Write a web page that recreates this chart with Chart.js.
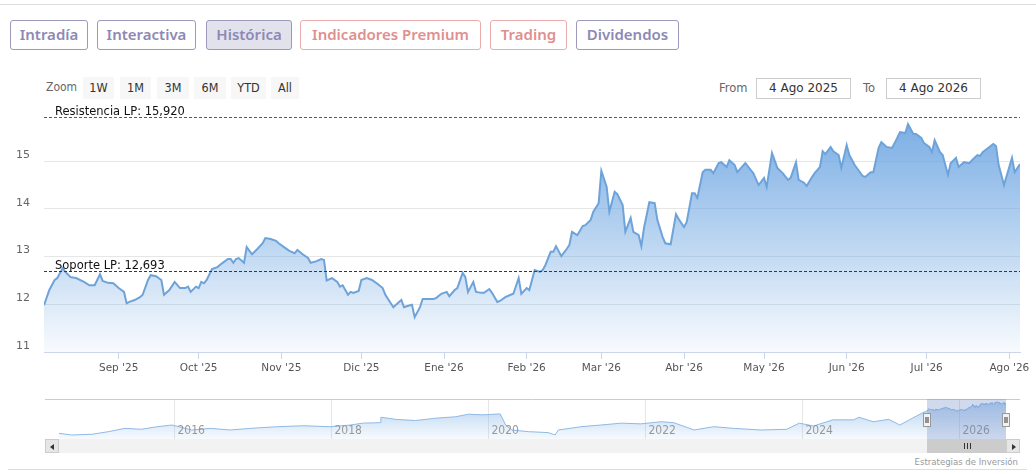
<!DOCTYPE html>
<html lang="es">
<head>
    <meta charset="UTF-8">
    <title>Histórica</title>
    <script src="https://cdn.jsdelivr.net/npm/chart.js"></script>
    <style>
        html, body { margin: 0; padding: 0; background: #fff; }
        .page { position: relative; width: 1036px; height: 474px; overflow: hidden; font-family: "DejaVu Sans", sans-serif; }
        .rule { position: absolute; height: 1px; background: #dedede; }
        .tab { position: absolute; top: 20px; height: 30px; box-sizing: border-box; border: 1px solid #9c99bb; border-radius: 3px;
               font-family: "Noto Sans", sans-serif; font-weight: 600; font-size: 15px; line-height: 27px; text-align: center; color: #8d89b4; }
        .tab.on { background: #e2e2ec; }
        .tab.red { color: #df8f8e; border-color: #e8adac; }
        .zoom-lbl { position: absolute; left: 46px; top: 80px; font-size: 12px; color: #666;
                    font-family: "Liberation Sans Narrow", "DejaVu Sans Condensed", "Liberation Sans", sans-serif; }
        .rbtn { position: absolute; top: 77px; height: 22px; background: #f7f7f7; font-size: 12.5px; line-height: 22px; text-align: center; color: #333;
                font-family: "Liberation Sans Narrow", "DejaVu Sans Condensed", "Liberation Sans", sans-serif; }
        .dlbl { position: absolute; top: 81px; font-size: 11.5px; color: #666; }
        .dbox { position: absolute; top: 78px; width: 95px; height: 21px; box-sizing: border-box; border: 1px solid #cccccc;
                font-size: 12px; line-height: 19px; text-align: center; color: #333; }
        #priceChart { position: absolute; left: 0; top: 95px; }
        #navChart { position: absolute; left: 0; top: 399px; }
        .sb-track { position: absolute; left: 45px; top: 439px; width: 975px; height: 14px; background: #f2f2f2; }
        .sb-btn { position: absolute; top: 439px; width: 14px; height: 14px; box-sizing: border-box; background: #e6e6e6; border: 1px solid #cccccc; }
        .sb-btn i { position: absolute; top: 4px; width: 0; height: 0; border-top: 3px solid transparent; border-bottom: 3px solid transparent; }
        .sb-left i { left: 4px; border-right: 4px solid #333; }
        .sb-right i { left: 5px; border-left: 4px solid #333; }
        .sb-thumb { position: absolute; top: 439px; height: 14px; background: #cccccc; }
        .sb-thumb b { position: absolute; top: 4px; width: 1px; height: 6px; background: #333; }
        .credits { position: absolute; right: 18px; top: 456px; font-size: 9.5px; color: #999;
                   font-family: "Liberation Sans Narrow", "DejaVu Sans Condensed", "Liberation Sans", sans-serif; }
    </style>
</head>
<body>
<div class="page">
    <div class="rule" style="left:0;top:4px;width:1036px"></div>

    <!-- Pestañas -->
    <div class="tab" style="left:10px;width:78px">Intradía</div>
    <div class="tab" style="left:97px;width:99px">Interactiva</div>
    <div class="tab on" style="left:206px;width:86px">Histórica</div>
    <div class="tab red" style="left:300px;width:181px">Indicadores Premium</div>
    <div class="tab red" style="left:490px;width:77px">Trading</div>
    <div class="tab" style="left:576px;width:103px">Dividendos</div>

    <!-- Selector de rango -->
    <div class="zoom-lbl">Zoom</div>
    <div class="rbtn" style="left:83px;width:31px">1W</div>
    <div class="rbtn" style="left:120px;width:31px">1M</div>
    <div class="rbtn" style="left:157px;width:32px">3M</div>
    <div class="rbtn" style="left:194px;width:32px">6M</div>
    <div class="rbtn" style="left:231px;width:35px">YTD</div>
    <div class="rbtn" style="left:271px;width:28px">All</div>

    <div class="dlbl" style="left:719px">From</div>
    <div class="dbox" style="left:756px" id="fromBox"></div>
    <div class="dlbl" style="left:863px">To</div>
    <div class="dbox" style="left:886px" id="toBox"></div>

    <canvas id="priceChart" width="1036" height="285"></canvas>
    <canvas id="navChart" width="1036" height="40"></canvas>

    <div class="sb-track"></div>
    <div class="sb-thumb" id="sbThumb"><b></b><b></b><b></b></div>
    <div class="sb-btn sb-left" style="left:45px"><i></i></div>
    <div class="sb-btn sb-right" style="left:1006px"><i></i></div>

    <div class="credits">Estrategias de Inversión</div>
    <div class="rule" style="left:8px;top:469px;width:1019px"></div>
</div>

<script>
    // Periodo visible
    const fromLabel = "4 Ago 2025";
    const toLabel = "4 Ago 2026";

    // Cotización diaria: días desde 4 Ago 2025
    const priceDays = [0, 2, 4, 5, 7, 8, 10, 12, 15, 17, 19, 21, 22, 24, 26, 28, 30, 31, 32, 34, 36, 37, 39, 40, 42, 44, 45, 47, 49, 51,
        53, 54, 55, 57, 58, 59, 60, 61, 63, 65, 67, 69, 70, 71, 72, 73, 75, 76, 78, 80, 82, 83, 85, 87, 88, 90, 92, 94, 95, 97,
        99, 100, 102, 104, 105, 106, 108, 110, 111, 112, 114, 115, 116, 118, 119, 121, 123, 125, 127, 128, 131, 132, 134, 135, 136, 138, 139, 141, 142, 144,
        146, 147, 149, 151, 152, 154, 155, 157, 158, 159, 161, 162, 164, 165, 167, 168, 170, 171, 173, 175, 176, 178, 179, 181, 182, 184, 186, 187, 188, 190,
        191, 192, 194, 196, 197, 198, 200, 202, 203, 205, 206, 208, 209, 211, 212, 214, 215, 217, 218, 220, 221, 223, 224, 225, 227, 229, 230, 232, 233, 235,
        237, 238, 240, 241, 243, 244, 245, 247, 248, 250, 251, 253, 254, 256, 257, 259, 260, 263, 265, 266, 268, 270, 271, 273, 275, 277, 279, 280, 282, 283,
        285, 286, 288, 289, 291, 292, 293, 295, 296, 298, 299, 301, 302, 304, 307, 308, 310, 311, 313, 314, 316, 318, 319, 321, 323, 324, 326, 327, 329, 330,
        332, 333, 334, 336, 337, 339, 340, 342, 343, 345, 347, 348, 350, 351, 352, 356, 357, 358, 360, 363, 364, 366];
    const priceValues = [11.98, 12.30, 12.51, 12.55, 12.76, 12.68, 12.57, 12.55, 12.47, 12.40, 12.40, 12.63, 12.49, 12.45, 12.44, 12.34, 12.26, 12.02, 12.05, 12.09, 12.15, 12.20, 12.51, 12.61, 12.59, 12.51, 12.20, 12.30, 12.47, 12.34,
        12.34, 12.37, 12.26, 12.37, 12.34, 12.47, 12.44, 12.51, 12.74, 12.78, 12.87, 12.95, 12.95, 12.87, 12.95, 12.97, 12.87, 13.20, 13.05, 13.16, 13.28, 13.39, 13.37, 13.33, 13.28, 13.20, 13.12, 13.07, 13.14, 13.05,
        12.97, 12.87, 12.90, 12.95, 12.93, 12.50, 12.55, 12.47, 12.37, 12.40, 12.20, 12.26, 12.24, 12.28, 12.51, 12.55, 12.51, 12.43, 12.34, 12.20, 11.94, 11.99, 12.09, 11.94, 11.96, 11.99, 11.73, 11.94, 12.11, 12.11,
        12.11, 12.13, 12.22, 12.26, 12.17, 12.30, 12.34, 12.66, 12.57, 12.26, 12.47, 12.26, 12.24, 12.24, 12.32, 12.24, 12.05, 12.07, 12.15, 12.20, 12.22, 12.55, 12.22, 12.34, 12.30, 12.72, 12.68, 12.72, 12.82, 13.10,
        13.10, 13.22, 13.01, 13.16, 13.24, 13.52, 13.45, 13.64, 13.66, 13.77, 13.94, 14.12, 14.80, 14.46, 13.94, 14.36, 14.31, 14.08, 13.52, 13.81, 13.52, 13.45, 13.22, 13.60, 14.14, 14.12, 13.77, 13.41, 13.28, 13.26,
        13.89, 13.79, 13.62, 13.72, 14.33, 14.33, 14.23, 14.77, 14.82, 14.82, 14.75, 14.96, 14.98, 14.88, 15.02, 14.92, 14.77, 14.96, 14.82, 14.75, 14.50, 14.65, 14.46, 15.17, 14.86, 14.75, 14.61, 14.65, 14.98, 14.61,
        14.55, 14.48, 14.67, 14.75, 14.88, 15.21, 15.15, 15.30, 15.21, 15.13, 14.86, 15.34, 15.13, 14.92, 14.69, 14.67, 14.77, 14.77, 15.28, 15.40, 15.30, 15.28, 15.38, 15.61, 15.59, 15.78, 15.57, 15.57, 15.49, 15.38,
        15.30, 15.19, 15.44, 15.19, 15.13, 14.71, 14.96, 15.07, 14.88, 14.98, 14.96, 15.02, 15.13, 15.11, 15.19, 15.36, 15.32, 14.92, 14.50, 15.07, 14.77, 14.94];
    const periodDays = 366;

    // Eje X: inicio de cada mes
    const monthDays = [28, 58, 89, 119, 150, 181, 209, 240, 270, 301, 331, 362];
    const monthLabels = ["Sep '25", "Oct '25", "Nov '25", "Dic '25", "Ene '26", "Feb '26", "Mar '26", "Abr '26", "May '26", "Jun '26", "Jul '26", "Ago '26"];
    const yTicks = [11, 12, 13, 14, 15];

    // Niveles de soporte / resistencia
    const levelNames = ["Resistencia LP", "Soporte LP"];
    const levelValues = [15.920, 12.693];

    // Navegador: histórico anterior (año decimal) + el periodo visible
    const navHistYears = [2014.53, 2014.69, 2014.95, 2015.16, 2015.37, 2015.58, 2015.78, 2015.97, 2016.22, 2016.46, 2016.71, 2016.97, 2017.31, 2017.64, 2017.98, 2018.24, 2018.40, 2018.62,
        2018.63, 2018.82, 2019.07, 2019.33, 2019.58, 2019.75, 2019.92, 2020.15, 2020.22, 2020.30, 2020.51, 2020.76, 2020.85, 2020.89, 2021.18, 2021.43, 2021.69, 2021.94,
        2022.20, 2022.36, 2022.62, 2022.87, 2023.12, 2023.47, 2023.80, 2023.96, 2024.14, 2024.39, 2024.65, 2024.72, 2024.90, 2025.10, 2025.24, 2025.40, 2025.52];
    const navHistValues = [2.4, 1.7, 2.0, 3.1, 4.5, 4.1, 5.2, 5.9, 3.8, 4.5, 3.8, 4.5, 5.2, 5.6, 5.2, 5.9, 6.7, 6.9,
        9.2, 8.3, 7.8, 8.8, 9.4, 10.5, 10.2, 10.6, 5.9, 3.8, 3.1, 2.7, 1.7, 3.8, 5.2, 5.9, 6.7, 6.4,
        7.3, 6.9, 3.8, 5.2, 4.5, 3.8, 4.1, 6.7, 5.5, 8.1, 8.1, 9.2, 7.3, 8.3, 5.9, 8.8, 10.9];
    const navYearTicks = [2016, 2018, 2020, 2022, 2024, 2026];
    const navMinYear = 2014.53;
    const periodStartYear = 2025.59;

    document.getElementById("fromBox").innerText = fromLabel;
    document.getElementById("toBox").innerText = toLabel;

    const fmtLevel = v => v.toFixed(3).replace(".", ",");

    // 🔹 Degradado del área
    function areaFill(chart, rgb, top, bottom) {
        const area = chart.chartArea;
        if (!area) return "rgba(" + rgb + "," + top + ")";
        const g = chart.ctx.createLinearGradient(0, area.top, 0, area.bottom);
        g.addColorStop(0, "rgba(" + rgb + "," + top + ")");
        g.addColorStop(1, "rgba(" + rgb + "," + bottom + ")");
        return g;
    }

    // 🔹 Líneas discontinuas de soporte y resistencia
    const levelColors = ["#2b7a30", "#7a1a2c"];
    const levelLines = {
        id: "levelLines",
        afterDatasetsDraw(chart) {
            const { ctx, chartArea, scales } = chart;
            levelValues.forEach((v, i) => {
                const y = Math.round(scales.y.getPixelForValue(v)) + 0.5;
                ctx.save();
                ctx.strokeStyle = levelColors[i];
                ctx.lineWidth = 1;
                ctx.setLineDash([3, 2]);
                ctx.beginPath();
                ctx.moveTo(chartArea.left, y);
                ctx.lineTo(chartArea.right, y);
                ctx.stroke();
                ctx.setLineDash([]);
                ctx.fillStyle = "#111";
                ctx.font = "11.5px 'DejaVu Sans'";
                ctx.textBaseline = "alphabetic";
                ctx.fillText(levelNames[i] + ": " + fmtLevel(v), chartArea.left + 11, y - 3);
                ctx.restore();
            });
        }
    };

    const priceChart = new Chart(document.getElementById("priceChart").getContext("2d"), {
        type: "line",
        data: {
            datasets: [{
                data: priceDays.map((d, i) => ({ x: d, y: priceValues[i] })),
                borderColor: "#6ea3da",
                borderWidth: 2,
                pointRadius: 0,
                tension: 0,
                fill: "start",
                backgroundColor: c => areaFill(c.chart, "110,166,226", 0.98, 0.05)
            }]
        },
        options: {
            responsive: false,
            animation: false,
            layout: { padding: { top: 9, right: 16, left: 0, bottom: 0 } },
            plugins: { legend: { display: false }, tooltip: { enabled: false } },
            scales: {
                x: {
                    type: "linear", min: 0, max: periodDays,
                    afterBuildTicks: s => { s.ticks = monthDays.map(v => ({ value: v })); },
                    afterFit: s => { s.height = 28; s.paddingLeft = 0; s.paddingRight = 0; },
                    ticks: { autoSkip: false, maxRotation: 0, padding: 3, color: "#555",
                             font: { family: "DejaVu Sans", size: 10.5 },
                             callback: (v, i) => monthLabels[i] },
                    grid: { drawOnChartArea: false, tickLength: 7, color: "#ccd6eb" },
                    border: { color: "#ccd6eb" }
                },
                y: {
                    min: 11, max: 16.2,
                    afterBuildTicks: s => { s.ticks = yTicks.map(v => ({ value: v })); },
                    afterFit: s => { s.width = 44; s.paddingTop = 0; s.paddingBottom = 0; },
                    ticks: { padding: 14, labelOffset: -6, color: "#666", font: { family: "DejaVu Sans", size: 11 } },
                    grid: { color: "#e6e6e6", drawTicks: false },
                    border: { display: false }
                }
            }
        },
        plugins: [levelLines]
    });

    // 🔹 Navegador inferior
    const navPoints = navHistYears.map((yr, i) => ({ x: yr, y: navHistValues[i] }))
        .concat(priceDays.map((d, i) => ({ x: periodStartYear + d / 365, y: priceValues[i] })));
    const selFrom = periodStartYear;
    const selTo = periodStartYear + periodDays / 365;

    const navDecor = {
        id: "navDecor",
        beforeDatasetsDraw(chart) {
            const { ctx, chartArea, scales } = chart;
            ctx.save();
            ctx.strokeStyle = "#e6e6e6";
            ctx.lineWidth = 1;
            navYearTicks.forEach(yr => {
                const x = Math.round(scales.x.getPixelForValue(yr)) + 0.5;
                ctx.beginPath();
                ctx.moveTo(x, chartArea.top);
                ctx.lineTo(x, chartArea.bottom);
                ctx.stroke();
            });
            ctx.restore();
        },
        afterDatasetsDraw(chart) {
            const { ctx, chartArea, scales } = chart;
            const x0 = Math.round(scales.x.getPixelForValue(selFrom));
            const x1 = Math.round(scales.x.getPixelForValue(selTo));
            ctx.save();
            // etiquetas de años
            ctx.fillStyle = "#999";
            ctx.font = "12px 'Liberation Sans Narrow', 'DejaVu Sans Condensed', 'Liberation Sans'";
            ctx.textBaseline = "middle";
            navYearTicks.forEach(yr => {
                ctx.fillText(String(yr), scales.x.getPixelForValue(yr) + 3, 32);
            });
            // borde superior
            ctx.strokeStyle = "#cccccc";
            ctx.beginPath();
            ctx.moveTo(45, 0.5);
            ctx.lineTo(1020, 0.5);
            ctx.stroke();
            // zona seleccionada
            ctx.fillStyle = "rgba(102,133,194,0.3)";
            ctx.fillRect(x0, chartArea.top, x1 - x0, chartArea.bottom - chartArea.top);
            // asas
            [x0, x1].forEach(hx => {
                ctx.fillStyle = "#f2f2f2";
                ctx.strokeStyle = "#999";
                ctx.fillRect(hx - 3.5, 14, 7, 14);
                ctx.strokeRect(hx - 3.5, 14.5, 7, 13);
                ctx.strokeStyle = "#333";
                ctx.beginPath();
                ctx.moveTo(hx - 1, 18); ctx.lineTo(hx - 1, 24);
                ctx.moveTo(hx + 1, 18); ctx.lineTo(hx + 1, 24);
                ctx.stroke();
            });
            ctx.restore();
        }
    };

    const navChart = new Chart(document.getElementById("navChart").getContext("2d"), {
        type: "line",
        data: {
            datasets: [{
                data: navPoints,
                borderColor: "#8fb9e4",
                borderWidth: 1,
                pointRadius: 0,
                tension: 0,
                fill: "start",
                backgroundColor: c => areaFill(c.chart, "124,176,230", 0.6, 0.06)
            }]
        },
        options: {
            responsive: false,
            animation: false,
            layout: { padding: { left: 59, right: 30, top: 0, bottom: 0 } },
            plugins: { legend: { display: false }, tooltip: { enabled: false } },
            scales: {
                x: { type: "linear", display: false, min: navMinYear, max: selTo },
                y: { display: false, min: 0, max: 16.9 }
            }
        },
        plugins: [navDecor]
    });

    // 🔹 Barra de desplazamiento sigue a la selección
    const thumb = document.getElementById("sbThumb");
    const tx0 = navChart.scales.x.getPixelForValue(selFrom);
    const tx1 = navChart.scales.x.getPixelForValue(selTo);
    thumb.style.left = tx0 + "px";
    thumb.style.width = (tx1 - tx0) + "px";
    thumb.querySelectorAll("b").forEach((b, i) => { b.style.left = ((tx1 - tx0) / 2 - 3 + i * 3) + "px"; });
</script>
</body>
</html>
